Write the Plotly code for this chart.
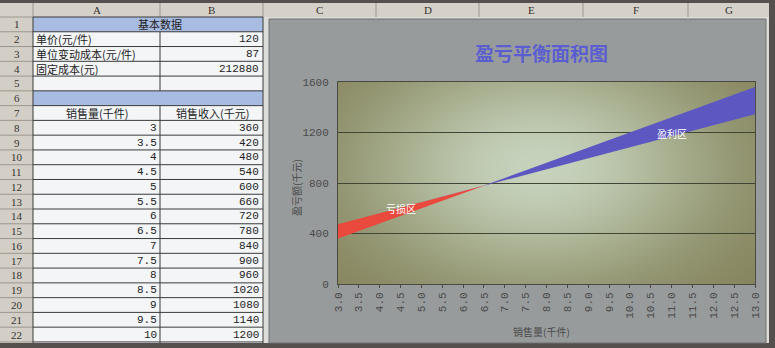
import numpy as np
import plotly.graph_objects as go

# ---------------- data ----------------
unit_price = 120          # 单价(元/件)
unit_var_cost = 87        # 单位变动成本(元/件)
fixed_cost = 212880       # 固定成本(元)

sales = [3.0, 3.5, 4.0, 4.5, 5.0, 5.5, 6.0, 6.5, 7.0, 7.5, 8.0, 8.5, 9.0,
         9.5, 10.0, 10.5, 11.0, 11.5, 12.0, 12.5, 13.0]
revenue = [360, 420, 480, 540, 600, 660, 720, 780, 840, 900, 960, 1020, 1080,
           1140, 1200, 1260, 1320, 1380, 1440, 1500, 1560]
total_cost = [473.88, 517.38, 560.88, 604.38, 647.88, 691.38, 734.88, 778.38,
              821.88, 865.38, 908.88, 952.38, 995.88, 1039.38, 1082.88,
              1126.38, 1169.88, 1213.38, 1256.88, 1300.38, 1343.88]
x_tick_labels = ["3.0", "3.5", "4.0", "4.5", "5.0", "5.5", "6.0", "6.5", "7.0",
                 "7.5", "8.0", "8.5", "9.0", "9.5", "10.0", "10.5", "11.0",
                 "11.5", "12.0", "12.5", "13.0"]
y_ticks = [0, 400, 800, 1200, 1600]

table_sales = ["3", "3.5", "4", "4.5", "5", "5.5", "6", "6.5", "7", "7.5", "8",
               "8.5", "9", "9.5", "10"]
table_revenue = revenue[:15]
col_letters = ["A", "B", "C", "D", "E", "F", "G"]

W, H = 775, 348
CJK = "Noto Sans CJK SC"
MONO = "Liberation Mono, Noto Sans CJK SC"
SERIF = "Liberation Serif, Noto Sans CJK SC"


def fx(x):
    return x / W


def fy(y):
    return 1 - y / H


shapes = []
annots = []


def rect(x0, y0, x1, y1, fill, line=None, lw=0):
    shapes.append(dict(type="rect", xref="paper", yref="paper",
                       x0=fx(x0), x1=fx(x1), y0=fy(y1), y1=fy(y0),
                       fillcolor=fill, line=dict(color=line or fill, width=lw),
                       layer="below"))


def seg(x0, y0, x1, y1, color, lw=1):
    shapes.append(dict(type="line", xref="paper", yref="paper",
                       x0=fx(x0), x1=fx(x1), y0=fy(y0), y1=fy(y1),
                       line=dict(color=color, width=lw), layer="below"))


def text(x, y, s, size=12, color="#222", family=MONO, xanchor="center",
         angle=0, bold=False):
    if bold:
        s = "<b>" + s + "</b>"
    annots.append(dict(xref="paper", yref="paper", x=fx(x), y=fy(y), text=s,
                       showarrow=False, xanchor=xanchor, yanchor="middle",
                       textangle=angle, borderpad=0,
                       font=dict(size=size, color=color, family=family)))


# ---------------- spreadsheet backdrop ----------------
rect(0, 3, 769, 343, "#dcdcda")
rect(0, 3, 769, 17, "#d6d1c8")
col_edges = [33, 160, 263, 376, 479, 583, 688, 769]
for i, letter in enumerate(col_letters):
    text((col_edges[i] + col_edges[i + 1]) / 2, 10, letter, size=11,
         color="#333", family=SERIF)
for xe in col_edges[:-1]:
    seg(xe, 3, xe, 17, "#9a968e")

ROW0, RH = 17, 14.77
rect(0, ROW0, 33, 343, "#d4cfc6")
rect(33, ROW0, 263, 343, "#f3f5f7")
rect(33, ROW0, 263, ROW0 + RH, "#a8bce2")
rect(33, ROW0 + 5 * RH, 263, ROW0 + 6 * RH, "#a8bce2")

for r in range(23):
    yy = ROW0 + r * RH
    seg(0, yy, 33, yy, "#9c978f")
    seg(33, yy, 263, yy, "#3a3a3a")
seg(33, ROW0, 33, 343, "#3a3a3a")
seg(160, ROW0 + RH, 160, ROW0 + 5 * RH, "#3a3a3a")
seg(160, ROW0 + 6 * RH, 160, 343, "#3a3a3a")
seg(263, ROW0, 263, 343, "#3a3a3a")


def row_mid(r):
    return ROW0 + (r - 0.5) * RH


for r in range(1, 23):
    text(16.5, row_mid(r), str(r), size=11, color="#333", family=SERIF)

text(160, row_mid(1), "基本数据", size=11, family=CJK)
labels = ["单价(元/件)", "单位变动成本(元/件)", "固定成本(元)"]
values = [unit_price, unit_var_cost, fixed_cost]
for i, (lab, val) in enumerate(zip(labels, values)):
    text(35, row_mid(2 + i), lab, size=11, family=CJK, xanchor="left")
    text(260, row_mid(2 + i), str(val), size=11, xanchor="right")
text(97, row_mid(7), "销售量(千件)", size=11, family=CJK)
text(212, row_mid(7), "销售收入(千元)", size=11, family=CJK)
for i, (s, v) in enumerate(zip(table_sales, table_revenue)):
    text(158, row_mid(8 + i), s, size=11, xanchor="right")
    text(260, row_mid(8 + i), str(v), size=11, xanchor="right")

# ---------------- chart area ----------------
rect(269, 19, 766, 343, "#989b9c", line="#707070", lw=1)
text(541, 52, "盈亏平衡面积图", size=19, color="#5a5ed0", family=CJK, bold=True)
text(541, 331, "销售量(千件)", size=10, color="#4a4a4a", family=CJK)
text(296, 188, "盈亏额(千元)", size=10, color="#4a4a4a", family=CJK, angle=-90)

# plot-area gradient background (decoration)
PX = [fx(338), fx(755)]
PY = [fy(284), fy(82)]
nx, ny = 60, 30
gx = np.linspace(0, 1, nx)
gy = np.linspace(0, 1, ny)
GX, GY = np.meshgrid(gx, gy)
Z = np.exp(-((GX - 0.48) / 0.42) ** 2 - ((GY - 0.58) / 0.55) ** 2)

fig = go.Figure()
fig.add_trace(go.Heatmap(x=gx, y=gy, z=Z, zsmooth="best", showscale=False,
                         hoverinfo="skip",
                         colorscale=[[0, "#86855f"], [0.5, "#a7ae8e"],
                                     [1, "#c6d2bc"]],
                         xaxis="x", yaxis="y"))

# ---------------- break-even areas ----------------
base = [min(r, c) for r, c in zip(revenue, total_cost)]
loss = [max(c - r, 0) for r, c in zip(revenue, total_cost)]
profit = [max(r - c, 0) for r, c in zip(revenue, total_cost)]

fig.add_trace(go.Scatter(x=sales, y=base, stackgroup="g", mode="lines",
                         line=dict(width=0), fillcolor="rgba(0,0,0,0)",
                         hoverinfo="skip", xaxis="x2", yaxis="y2"))
fig.add_trace(go.Scatter(x=sales, y=loss, stackgroup="g", mode="lines",
                         line=dict(width=0), fillcolor="#ea4a3e",
                         name="亏损区", xaxis="x2", yaxis="y2"))
fig.add_trace(go.Scatter(x=sales, y=profit, stackgroup="g", mode="lines",
                         line=dict(width=0), fillcolor="#5d57c2",
                         name="盈利区", xaxis="x2", yaxis="y2"))

annots.append(dict(xref="x2", yref="y2", x=4.5, y=600, text="亏损区",
                   showarrow=False, font=dict(size=10, color="white",
                                              family=CJK)))
annots.append(dict(xref="x2", yref="y2", x=11.0, y=1190, text="盈利区",
                   showarrow=False, font=dict(size=10, color="white",
                                              family=CJK)))

fig.update_layout(
    width=W, height=H, autosize=False,
    margin=dict(l=0, r=0, t=0, b=0, pad=0),
    paper_bgcolor="#55504e",
    plot_bgcolor="rgba(0,0,0,0)",
    showlegend=False,
    shapes=shapes,
    annotations=annots,
    xaxis=dict(domain=PX, range=[0, 1], visible=False, fixedrange=True),
    yaxis=dict(domain=PY, range=[0, 1], visible=False, fixedrange=True),
    xaxis2=dict(domain=PX, anchor="y2", range=[3, 13], tickvals=sales,
                ticktext=x_tick_labels, tickangle=-90, showgrid=False,
                zeroline=False, showline=True, linecolor="#4a4a40",
                linewidth=1, mirror=True, ticks="outside", ticklen=3,
                tickcolor="#4a4a40", automargin=False,
                tickfont=dict(size=11, color="#4a4a4a", family=MONO)),
    yaxis2=dict(domain=PY, anchor="x2", range=[0, 1600], tickvals=y_ticks,
                showgrid=True, gridcolor="#3f4636", gridwidth=1,
                zeroline=False, showline=True, linecolor="#4a4a40",
                linewidth=1, mirror=True, ticks="", automargin=False,
                ticklabelstandoff=6,
                tickfont=dict(size=11, color="#4a4a4a", family=MONO)),
)

fig.write_html("out.html",
               config={"displayModeBar": False},
               post_script="document.body.style.margin='0px';"
                           "document.body.style.overflow='hidden';")
